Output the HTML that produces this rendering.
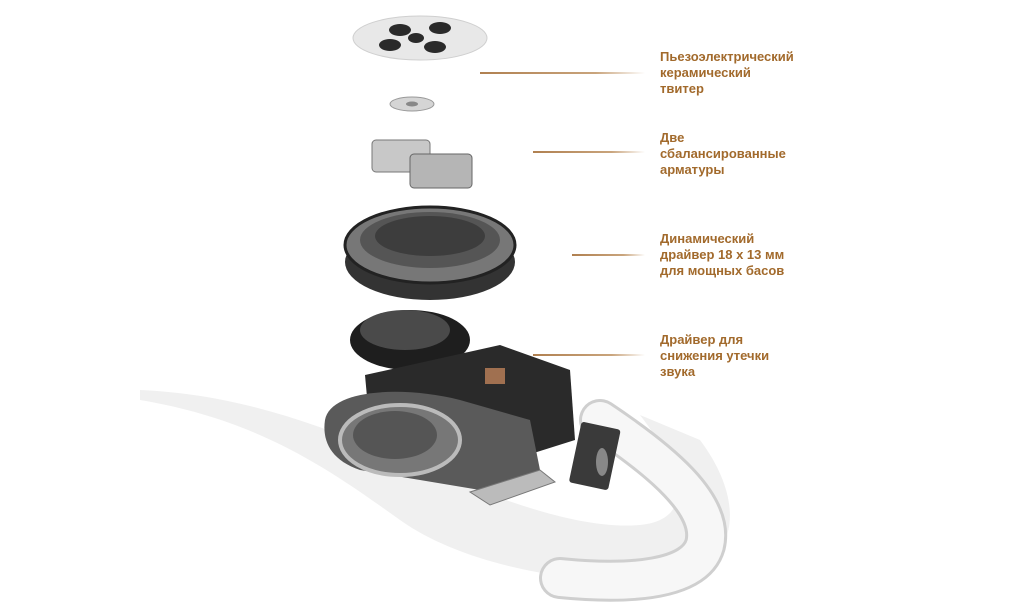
<!DOCTYPE html>
<html><head><meta charset="utf-8"><style>
body{margin:0;background:#fff;width:1024px;height:609px;overflow:hidden;position:relative;font-family:"Liberation Sans","DejaVu Sans",sans-serif}
.l{position:absolute;left:660px;width:133px;overflow:hidden;white-space:nowrap;color:#a26a2c;font-weight:bold;font-size:13px;line-height:16px}
.ln{position:absolute;height:1.5px;background:linear-gradient(90deg,#b08050,#c9a47c 70%,rgba(255,255,255,0))}
</style></head><body>
<svg width="1024" height="609" style="position:absolute;left:0;top:0">
<path d="M140 400 C260 420 330 470 400 520 C470 570 600 590 680 575 C740 560 745 500 700 440 L640 415 C690 480 690 520 640 525 C580 530 500 500 430 470 C330 430 250 395 140 390Z" fill="#f0f0f0"/>
<path d="M600 420 C660 460 715 505 705 545 C695 580 630 585 560 578" stroke="#cfcfcf" stroke-width="42" fill="none" stroke-linecap="round"/>
<path d="M600 420 C660 460 715 505 705 545 C695 580 630 585 560 578" stroke="#f7f7f7" stroke-width="36" fill="none" stroke-linecap="round"/>
<ellipse cx="420" cy="38" rx="67" ry="22" fill="#e8e8e8" stroke="#cfcfcf"/>
<g fill="#2a2a2a"><ellipse cx="400" cy="30" rx="11" ry="6"/><ellipse cx="440" cy="28" rx="11" ry="6"/><ellipse cx="390" cy="45" rx="11" ry="6"/><ellipse cx="435" cy="47" rx="11" ry="6"/><ellipse cx="416" cy="38" rx="8" ry="5"/></g>
<ellipse cx="412" cy="104" rx="22" ry="7" fill="#d5d5d5" stroke="#999"/><ellipse cx="412" cy="104" rx="6" ry="2.5" fill="#888"/>
<rect x="372" y="140" width="58" height="32" rx="4" fill="#c8c8c8" stroke="#777"/>
<rect x="410" y="154" width="62" height="34" rx="4" fill="#b5b5b5" stroke="#666"/>
<ellipse cx="430" cy="262" rx="85" ry="38" fill="#333"/>
<ellipse cx="430" cy="245" rx="85" ry="38" fill="#777" stroke="#222" stroke-width="3"/>
<ellipse cx="430" cy="240" rx="70" ry="28" fill="#555"/>
<ellipse cx="430" cy="236" rx="55" ry="20" fill="#3d3d3d"/>
<ellipse cx="410" cy="340" rx="60" ry="30" fill="#1e1e1e"/>
<ellipse cx="405" cy="330" rx="45" ry="20" fill="#4a4a4a"/>
<path d="M365 375 L500 345 L570 370 L575 440 L480 470 L370 430Z" fill="#2a2a2a"/>
<rect x="485" y="368" width="20" height="16" fill="#a07050"/>
<path d="M325 420 C330 390 400 385 460 400 L530 420 L540 470 L480 490 L360 470 C330 460 322 440 325 420Z" fill="#5a5a5a"/>
<ellipse cx="400" cy="440" rx="60" ry="35" fill="#777" stroke="#bbb" stroke-width="4"/>
<ellipse cx="395" cy="435" rx="42" ry="24" fill="#555"/>
<rect x="575" y="425" width="40" height="62" rx="3" fill="#3a3a3a" transform="rotate(12 595 455)"/>
<ellipse cx="602" cy="462" rx="6" ry="14" fill="#888"/>
<path d="M470 492 L540 470 L555 482 L490 505Z" fill="#bbb" stroke="#777"/>
</svg>
<div class="ln" style="left:480px;top:72px;width:165px"></div>
<div class="ln" style="left:533px;top:151px;width:112px"></div>
<div class="ln" style="left:572px;top:254px;width:73px"></div>
<div class="ln" style="left:533px;top:354px;width:112px"></div>
<div class="l" style="top:49px">Пьезоэлектрический<br>керамический<br>твитер</div>
<div class="l" style="top:130px">Две<br>сбалансированные<br>арматуры</div>
<div class="l" style="top:231px">Динамический<br>драйвер 18 x 13 мм<br>для мощных басов</div>
<div class="l" style="top:332px">Драйвер для<br>снижения утечки<br>звука</div>
</body></html>
